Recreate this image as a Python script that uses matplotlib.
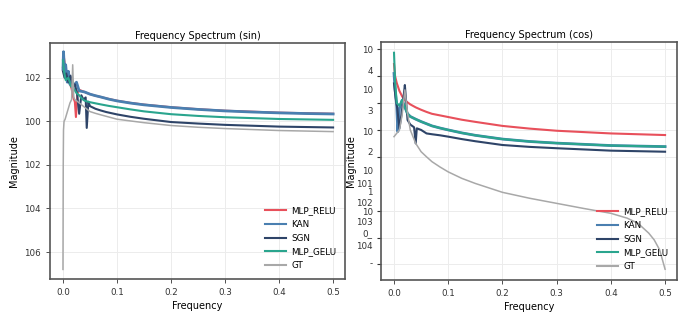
import matplotlib
matplotlib.use("Agg")
import matplotlib.pyplot as plt
import numpy as np
from matplotlib.ticker import FixedLocator, NullLocator, NullFormatter

plt.rcParams['font.family'] = ['Liberation Sans Narrow', 'DejaVu Sans']

# ---------------- spectrum of the sin target (log10 magnitude) ----------------
sin_relu_f = [0.0, 0.002, 0.005, 0.008, 0.012, 0.016, 0.019, 0.022, 0.024, 0.027, 0.03,
              0.04, 0.05, 0.06, 0.07, 0.085, 0.1, 0.125, 0.15, 0.2, 0.25, 0.3, 0.4, 0.5]
sin_relu_log = [2.5, 2.9, 2.3, 2.0, 1.8, 1.5, 1.1, 0.9, 0.2, 1.3, 1.45,
                1.35, 1.25, 1.18, 1.12, 1.03, 0.95, 0.85, 0.77, 0.65, 0.56, 0.49, 0.40, 0.35]

sin_kan_f = [0.0, 0.001, 0.003, 0.005, 0.008, 0.01, 0.013, 0.016, 0.02, 0.025, 0.03,
             0.04, 0.05, 0.06, 0.07, 0.085, 0.1, 0.125, 0.15, 0.2, 0.25, 0.3, 0.35,
             0.4, 0.45, 0.5]
sin_kan_log = [2.4, 3.2, 2.2, 2.6, 1.8, 2.3, 1.7, 2.0, 1.6, 1.8, 1.4,
               1.35, 1.25, 1.18, 1.12, 1.02, 0.94, 0.84, 0.76, 0.64, 0.55, 0.48, 0.43,
               0.39, 0.36, 0.34]

sin_sgn_f = [0.0, 0.003, 0.006, 0.01, 0.014, 0.018, 0.022, 0.026, 0.03, 0.034, 0.038,
             0.042, 0.044, 0.047, 0.05, 0.06, 0.07, 0.08, 0.1, 0.125, 0.15, 0.2, 0.25,
             0.3, 0.4, 0.5]
sin_sgn_log = [2.3, 2.0, 2.2, 1.8, 2.1, 1.6, 1.7, 1.3, 0.35, 1.2, 1.0,
               1.1, -0.3, 0.9, 0.7, 0.58, 0.5, 0.43, 0.32, 0.21, 0.12, -0.03, -0.1,
               -0.16, -0.24, -0.28]

sin_gelu_f = [0.0, 0.002, 0.005, 0.01, 0.015, 0.02, 0.025, 0.03, 0.035, 0.04, 0.05,
              0.06, 0.07, 0.085, 0.1, 0.125, 0.15, 0.2, 0.25, 0.3, 0.4, 0.5]
sin_gelu_log = [2.8, 2.3, 1.9, 2.0, 1.6, 1.5, 1.3, 1.2, 1.05, 0.95, 0.88,
                0.83, 0.78, 0.71, 0.65, 0.55, 0.46, 0.33, 0.25, 0.19, 0.11, 0.07]

sin_gt_f = [0.0, 0.0005, 0.001, 0.002, 0.004, 0.007, 0.01, 0.013, 0.016, 0.018, 0.02,
            0.022, 0.025, 0.03, 0.04, 0.05, 0.06, 0.07, 0.085, 0.1, 0.125, 0.15, 0.2,
            0.25, 0.3, 0.4, 0.5]
sin_gt_log = [-6.8, -2.0, -0.4, 0.0, 0.1, 0.35, 0.6, 0.85, 1.0, 2.6, 1.1,
              1.0, 0.95, 0.85, 0.65, 0.45, 0.37, 0.3, 0.2, 0.1, 0.02, -0.06, -0.19,
              -0.27, -0.33, -0.42, -0.47]

# ---------------- spectrum of the cos target (log10 magnitude) ----------------
cos_relu_f = [0.0, 0.002, 0.005, 0.01, 0.015, 0.02, 0.03, 0.04, 0.05, 0.06, 0.07, 0.085,
              0.1, 0.125, 0.15, 0.2, 0.25, 0.3, 0.4, 0.5]
cos_relu_log = [2.45, 2.0, 1.75, 1.45, 1.25, 1.1, 0.95, 0.84, 0.75, 0.67, 0.6, 0.54,
                0.48, 0.38, 0.3, 0.15, 0.05, -0.03, -0.13, -0.19]

cos_kan_f = [0.0, 0.002, 0.005, 0.007, 0.01, 0.015, 0.02, 0.025, 0.03, 0.04, 0.05, 0.06,
             0.07, 0.085, 0.1, 0.125, 0.15, 0.2, 0.25, 0.3, 0.4, 0.5]
cos_kan_log = [2.1, 1.5, 0.9, -0.06, 0.8, 1.1, 0.85, 0.6, 0.5, 0.4, 0.31, 0.23,
               0.15, 0.07, 0.0, -0.11, -0.2, -0.34, -0.43, -0.49, -0.58, -0.62]

cos_sgn_f = [0.0, 0.003, 0.006, 0.01, 0.014, 0.018, 0.02, 0.025, 0.03, 0.037, 0.04,
             0.042, 0.05, 0.06, 0.07, 0.085, 0.1, 0.125, 0.15, 0.2, 0.25, 0.3, 0.4, 0.5]
cos_sgn_log = [1.73, 1.2, 0.8, 0.06, 0.6, 1.3, 1.67, 0.37, 0.2, 0.1, -0.5,
               0.06, 0.0, -0.13, -0.16, -0.2, -0.25, -0.34, -0.42, -0.56, -0.63,
               -0.68, -0.77, -0.81]

cos_gelu_f = [0.0, 0.002, 0.005, 0.01, 0.015, 0.02, 0.025, 0.03, 0.04, 0.05, 0.06, 0.07,
              0.085, 0.1, 0.125, 0.15, 0.2, 0.25, 0.3, 0.4, 0.5]
cos_gelu_log = [2.87, 1.8, 1.0, 0.9, 1.12, 0.85, 0.6, 0.5, 0.4, 0.31, 0.23, 0.15,
                0.07, 0.0, -0.11, -0.2, -0.34, -0.43, -0.49, -0.58, -0.62]

cos_gt_f = [0.0, 0.01, 0.015, 0.02, 0.025, 0.03, 0.04, 0.05, 0.06, 0.07, 0.085, 0.1,
            0.125, 0.15, 0.2, 0.25, 0.3, 0.35, 0.4, 0.43, 0.45, 0.47, 0.48, 0.49, 0.5]
cos_gt_log = [-0.25, 0.0, 0.56, 1.49, 0.62, 0.0, -0.5, -0.81, -1.0, -1.18, -1.38, -1.56,
              -1.8, -1.99, -2.32, -2.54, -2.73, -2.92, -3.1, -3.28, -3.47, -3.84,
              -4.09, -4.46, -5.18]

labels = ['MLP_RELU', 'KAN', 'SGN', 'MLP_GELU', 'GT']
colors = ['#e8505b', '#4a7fb0', '#2e4468', '#2aa58e', '#a8a8a8']
widths = [1.5, 2.0, 1.5, 1.5, 1.1]

sin_series = [(sin_relu_f, sin_relu_log), (sin_kan_f, sin_kan_log), (sin_sgn_f, sin_sgn_log),
              (sin_gelu_f, sin_gelu_log), (sin_gt_f, sin_gt_log)]
cos_series = [(cos_relu_f, cos_relu_log), (cos_kan_f, cos_kan_log), (cos_sgn_f, cos_sgn_log),
              (cos_gelu_f, cos_gelu_log), (cos_gt_f, cos_gt_log)]

# tick labels as printed on each axis
sin_ytick_exp = [2, 0, -2, -4, -6]
sin_ytick_text = ['102', '100', '102', '104', '106']
cos_ylabel_exp = [2.98, 2.2, 1.49, 0.71, -0.04, -0.82, -1.52, -2.0, -2.3, -2.7, -3.05,
                  -3.42, -3.8, -4.28, -4.94]
cos_ylabel_text = ['10', '4', '10', '3', '10', '2', '10', '101', '1', '102', '10',
                   '103', '0_', '104', '-']
cos_decades = [3, 2, 1, 0, -1, -2, -3, -4, -5]
xticks = [0.0, 0.1, 0.2, 0.3, 0.4, 0.5]

fig = plt.figure(figsize=(7.0, 3.35), dpi=100)
ax1 = fig.add_axes([50 / 700, 1 - 279 / 335, 295 / 700, 236 / 335])
ax2 = fig.add_axes([381 / 700, 1 - 280 / 335, 296 / 700, 238 / 335])

for ax, series in ((ax1, sin_series), (ax2, cos_series)):
    for (f, lg), lab, c, w in zip(series, labels, colors, widths):
        ax.plot(f, 10.0 ** np.asarray(lg), color=c, lw=w, label=lab)
    ax.set_yscale('log')
    ax.set_xlim(-0.024, 0.522)
    ax.set_xticks(xticks)
    ax.set_xticklabels([f'{v:.1f}' for v in xticks])
    ax.set_xlabel('Frequency', fontsize=7, labelpad=3)
    ax.tick_params(axis='both', labelsize=6.3, colors='#333333', length=3, width=0.6)
    for s in ax.spines.values():
        s.set_color('#555555')
        s.set_linewidth(1.2)
    ax.set_axisbelow(True)
    for line in ax.legend(loc='lower right', frameon=False, fontsize=6.3, handlelength=2.4,
                          labelspacing=0.55, borderaxespad=0.6,
                          handletextpad=0.6).get_lines():
        line.set_linewidth(1.5)

ax1.set_title('Frequency Spectrum (sin)', fontsize=7, pad=3)
ax2.set_title('Frequency Spectrum (cos)', fontsize=7, pad=3)

# sin panel: one labelled tick every two decades
ax1.set_ylim(10 ** -7.24, 10 ** 3.6)
ax1.yaxis.set_major_locator(FixedLocator([10.0 ** e for e in sin_ytick_exp]))
ax1.yaxis.set_minor_locator(NullLocator())
ax1.set_yticklabels(sin_ytick_text)
ax1.grid(True, which='major', color='#ececec', lw=0.7)
ax1.set_ylabel('Magnitude', fontsize=7, labelpad=4)

# cos panel: decade ticks carry the grid, labels sit on their own positions
ax2.set_ylim(10 ** -5.58, 10 ** 3.27)
ax2.yaxis.set_major_locator(FixedLocator([10.0 ** e for e in cos_ylabel_exp]))
ax2.set_yticklabels(cos_ylabel_text)
ax2.yaxis.set_minor_locator(FixedLocator([10.0 ** e for e in cos_decades]))
ax2.yaxis.set_minor_formatter(NullFormatter())
ax2.tick_params(axis='y', which='major', length=0, pad=6)
ax2.tick_params(axis='y', which='minor', length=3, width=0.8, color='#333333')
ax2.grid(True, axis='y', which='minor', color='#ececec', lw=0.7)
ax2.grid(True, axis='x', which='major', color='#ececec', lw=0.7)
ax2.set_ylabel('Magnitude', fontsize=7, labelpad=0)

fig.savefig('out.png', dpi=100, facecolor='white')
